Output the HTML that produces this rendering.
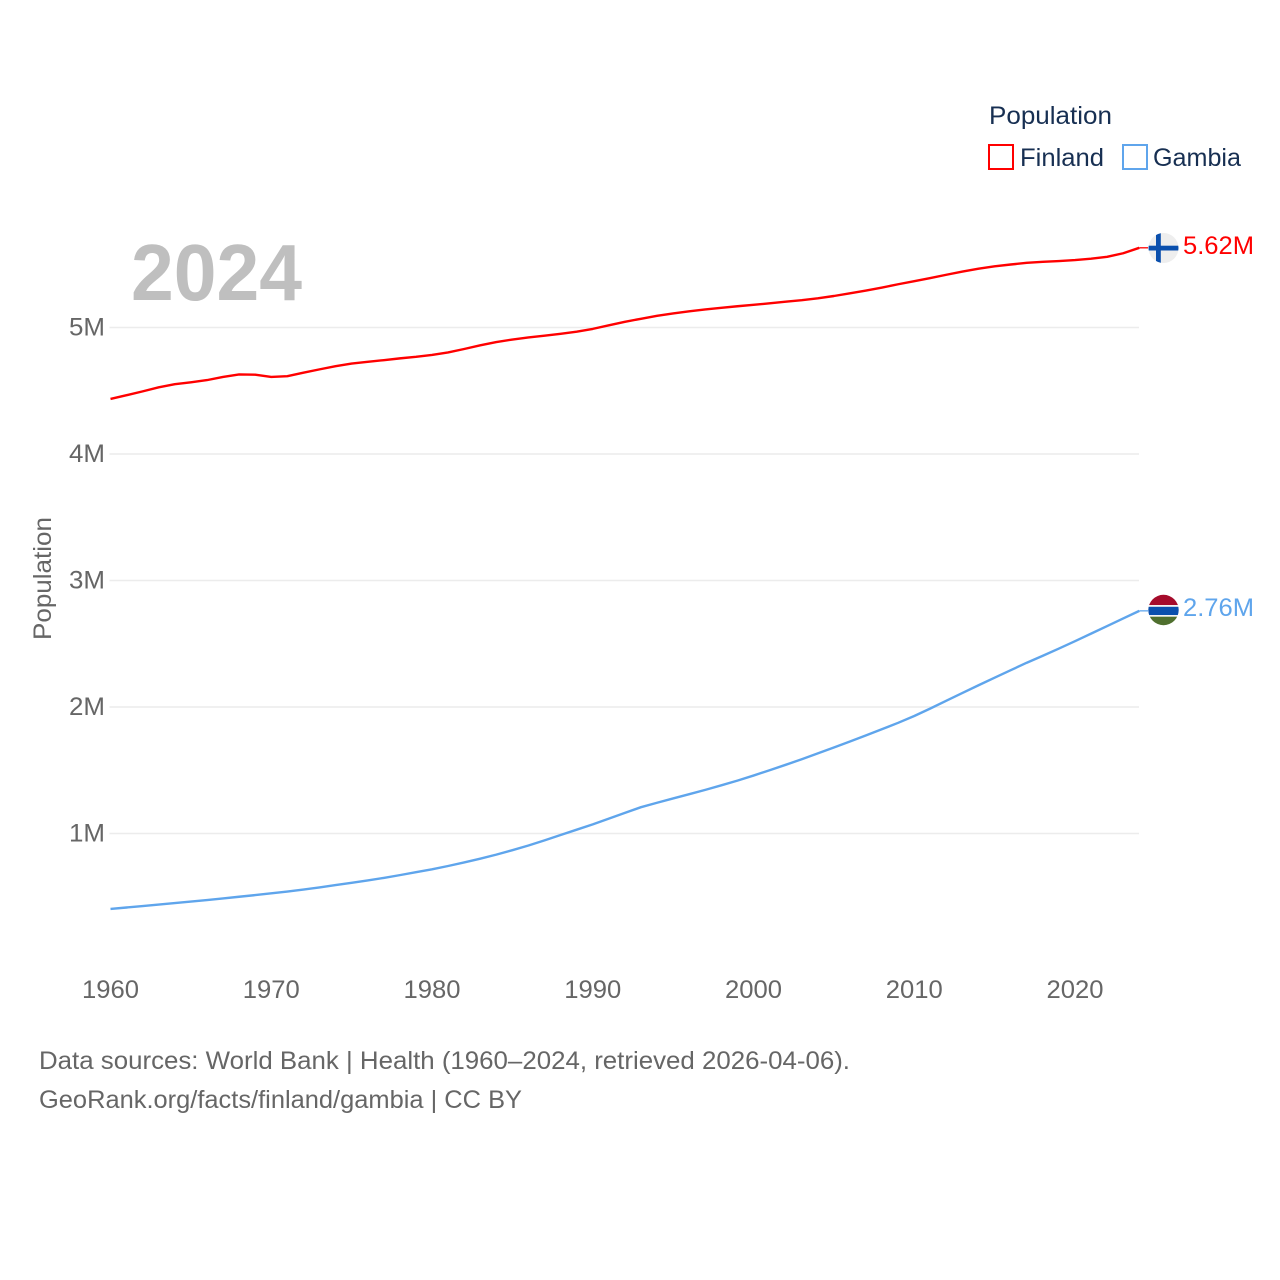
<!DOCTYPE html>
<html lang="en">
<head>
<meta charset="utf-8">
<title>Population: Finland vs Gambia</title>
<style>
html,body{margin:0;padding:0;background:#fff;width:1280px;height:1280px;overflow:hidden}
svg{display:block;font-family:"Liberation Sans",sans-serif}
</style>
</head>
<body>
<svg id="chart" xmlns="http://www.w3.org/2000/svg" width="1280" height="1280" viewBox="0 0 1280 1280">
  <defs>
    <clipPath id="flag-fi-clip"><circle cx="1163.5" cy="248" r="15"/></clipPath>
    <clipPath id="flag-gm-clip"><circle cx="1163.5" cy="610" r="15.2"/></clipPath>
  </defs>
  <rect width="1280" height="1280" fill="#fff"/>
  <g id="grid"></g>
  <g id="yticks"></g>
  <g id="xticks"></g>
  <text transform="translate(51,640) rotate(-90)" font-size="25" fill="#666" textLength="123" lengthAdjust="spacingAndGlyphs">Population</text>
  <text x="131" y="300" font-size="80" font-weight="700" fill="#bfbfbf" textLength="171" lengthAdjust="spacingAndGlyphs">2024</text>
  <g id="series"></g>

  <g clip-path="url(#flag-fi-clip)">
    <rect x="1148" y="232" width="31" height="32" fill="#eeeeee"/>
    <rect x="1148" y="245.7" width="31" height="4.8" fill="#0a4fad"/>
    <rect x="1156" y="232" width="4.8" height="32" fill="#0a4fad"/>
  </g>
  <g clip-path="url(#flag-gm-clip)">
    <rect x="1148" y="594" width="31" height="11" fill="#a50b2b"/>
    <rect x="1148" y="605" width="31" height="2" fill="#f2f2f2"/>
    <rect x="1148" y="606.8" width="31" height="8.4" fill="#0a4fad"/>
    <rect x="1148" y="615" width="31" height="2" fill="#f2f2f2"/>
    <rect x="1148" y="616.7" width="31" height="10" fill="#4f6f2e"/>
  </g>
  <text x="1183" y="254" font-size="25" fill="#ff0000" textLength="71" lengthAdjust="spacingAndGlyphs">5.62M</text>
  <text x="1183" y="616" font-size="25" fill="#5fa5ec" textLength="71" lengthAdjust="spacingAndGlyphs">2.76M</text>

  <g>
    <text x="989" y="124" font-size="25" fill="#172f52" textLength="123" lengthAdjust="spacingAndGlyphs">Population</text>
    <g>
      <rect x="989" y="145" width="24" height="24" fill="#fff" stroke="#ff0000" stroke-width="2"/>
      <text x="1020" y="166" font-size="25" fill="#172f52" textLength="84" lengthAdjust="spacingAndGlyphs">Finland</text>
    </g>
    <g>
      <rect x="1123" y="145" width="24" height="24" fill="#fff" stroke="#5fa5ec" stroke-width="2"/>
      <text x="1153" y="166" font-size="25" fill="#172f52" textLength="88" lengthAdjust="spacingAndGlyphs">Gambia</text>
    </g>
  </g>

  <text x="39" y="1069" font-size="25" fill="#666" textLength="811" lengthAdjust="spacingAndGlyphs">Data sources: World Bank | Health (1960–2024, retrieved 2026-04-06).</text>
  <text x="39" y="1108" font-size="25" fill="#666" textLength="483" lengthAdjust="spacingAndGlyphs">GeoRank.org/facts/finland/gambia | CC BY</text>
</svg>
<script>
var years = [1960,1961,1962,1963,1964,1965,1966,1967,1968,1969,1970,1971,1972,1973,1974,1975,1976,1977,1978,1979,1980,1981,1982,1983,1984,1985,1986,1987,1988,1989,1990,1991,1992,1993,1994,1995,1996,1997,1998,1999,2000,2001,2002,2003,2004,2005,2006,2007,2008,2009,2010,2011,2012,2013,2014,2015,2016,2017,2018,2019,2020,2021,2022,2023,2024];
var finland = [4.435,4.465,4.495,4.527,4.552,4.567,4.584,4.609,4.629,4.627,4.609,4.615,4.643,4.669,4.694,4.715,4.729,4.742,4.756,4.768,4.783,4.803,4.830,4.859,4.885,4.905,4.921,4.935,4.950,4.967,4.989,5.017,5.045,5.069,5.092,5.111,5.128,5.143,5.156,5.168,5.179,5.191,5.204,5.216,5.231,5.249,5.270,5.292,5.316,5.342,5.366,5.391,5.417,5.442,5.465,5.484,5.498,5.511,5.519,5.525,5.533,5.544,5.559,5.587,5.63];
var gambia = [0.404,0.415,0.426,0.438,0.450,0.462,0.474,0.487,0.500,0.513,0.527,0.541,0.557,0.574,0.592,0.610,0.629,0.649,0.671,0.694,0.717,0.743,0.771,0.801,0.833,0.868,0.905,0.946,0.988,1.030,1.072,1.118,1.163,1.208,1.243,1.277,1.311,1.345,1.381,1.418,1.458,1.500,1.543,1.587,1.633,1.680,1.727,1.776,1.825,1.875,1.929,1.988,2.050,2.111,2.172,2.232,2.291,2.350,2.405,2.462,2.520,2.580,2.640,2.700,2.76];
var yTickValues = [1,2,3,4,5];
var yTickLabels = ['1M','2M','3M','4M','5M'];
var xTickValues = [1960,1970,1980,1990,2000,2010,2020];

var NS = 'http://www.w3.org/2000/svg';
function xScale(y){ return 110.5 + (y - 1960) * (1075 - 110.5) / 60; }
function yScale(v){ return 960 - v * 126.5; }
function make(tag, parent){ var e = document.createElementNS(NS, tag); parent.appendChild(e); return e; }

var grid = document.getElementById('grid');
var yticks = document.getElementById('yticks');
var xticks = document.getElementById('xticks');
var series = document.getElementById('series');

yTickValues.forEach(function(v, i){
  var l = make('line', grid);
  
  
  l.setAttribute('x1', 109.5); l.setAttribute('x2', 1139);
  l.setAttribute('y1', yScale(v)); l.setAttribute('y2', yScale(v));
  l.setAttribute('stroke', '#ececec'); l.setAttribute('stroke-width', 1.5);
  var t = make('text', yticks);
  
  
  t.setAttribute('x', 69); t.setAttribute('y', yScale(v) + 8);
  t.setAttribute('font-size', 25); t.setAttribute('fill', '#666');
  t.setAttribute('textLength', 36); t.setAttribute('lengthAdjust', 'spacingAndGlyphs');
  t.textContent = yTickLabels[i];
});

xTickValues.forEach(function(y){
  var t = make('text', xticks);
  
  
  t.setAttribute('x', xScale(y) - 28.5); t.setAttribute('y', 998);
  t.setAttribute('font-size', 25); t.setAttribute('fill', '#666');
  t.setAttribute('textLength', 57); t.setAttribute('lengthAdjust', 'spacingAndGlyphs');
  t.textContent = y;
});

function pathFrom(xs, vs){
  var d = '';
  xs.forEach(function(y, i){ d += (i ? 'L' : 'M') + xScale(y).toFixed(2) + ' ' + yScale(vs[i]).toFixed(2); });
  return d;
}

var fiLine = make('path', series);


fiLine.setAttribute('d', pathFrom(years, finland));
fiLine.setAttribute('fill', 'none'); fiLine.setAttribute('stroke', '#ff0000');
fiLine.setAttribute('stroke-width', 2.4); fiLine.setAttribute('stroke-linejoin', 'round');

var gmLine = make('path', series);


gmLine.setAttribute('d', pathFrom(years, gambia));
gmLine.setAttribute('fill', 'none'); gmLine.setAttribute('stroke', '#5fa5ec');
gmLine.setAttribute('stroke-width', 2.4); gmLine.setAttribute('stroke-linejoin', 'round');

var fiLead = make('line', series);


fiLead.setAttribute('x1', xScale(2024)); fiLead.setAttribute('x2', 1148);
fiLead.setAttribute('y1', yScale(finland[finland.length - 1])); fiLead.setAttribute('y2', yScale(finland[finland.length - 1]));
fiLead.setAttribute('stroke', '#ff0000'); fiLead.setAttribute('stroke-width', 1.3);

var gmLead = make('line', series);


gmLead.setAttribute('x1', xScale(2024)); gmLead.setAttribute('x2', 1148);
gmLead.setAttribute('y1', yScale(gambia[gambia.length - 1])); gmLead.setAttribute('y2', yScale(gambia[gambia.length - 1]));
gmLead.setAttribute('stroke', '#5fa5ec'); gmLead.setAttribute('stroke-width', 1.3);
</script>
</body>
</html>
